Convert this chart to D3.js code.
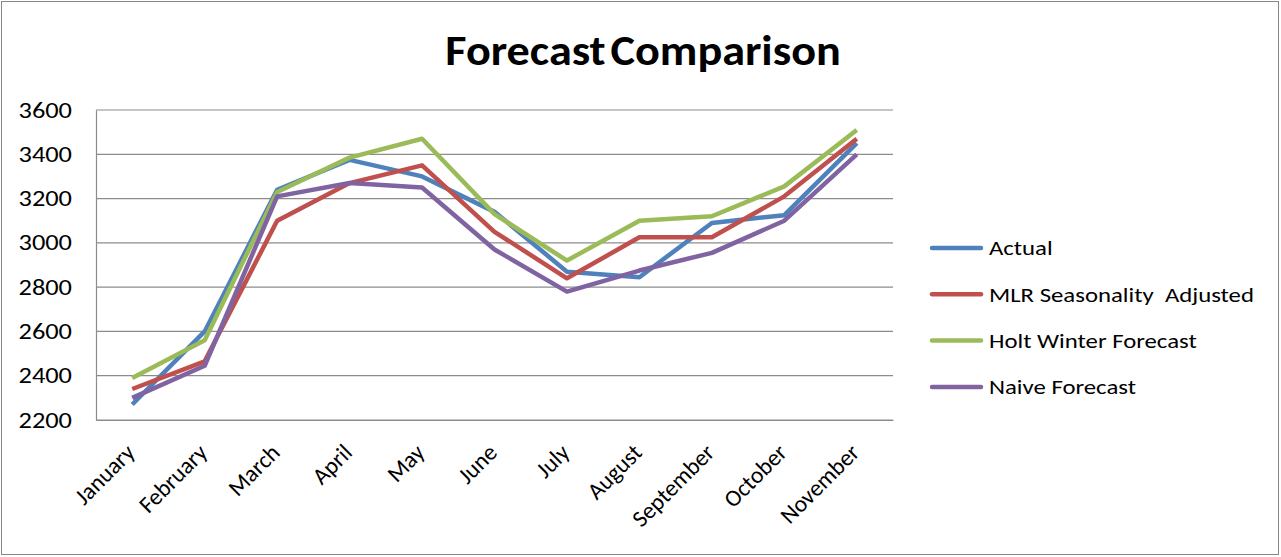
<!DOCTYPE html>
<html>
<head>
<meta charset="utf-8">
<script src="https://cdn.jsdelivr.net/npm/d3@7"></script>
<style>
  body { margin: 0; background: #fff; }
  svg text { font-family: Carlito, Calibri, Lato, "Open Sans", sans-serif; fill: #000; }
</style>
</head>
<body>
<div id="chart"></div>
<script>
const months = ['January', 'February', 'March', 'April', 'May', 'June', 'July', 'August', 'September', 'October', 'November'];
const actual = [2270, 2600, 3240, 3375, 3300, 3140, 2870, 2845, 3090, 3125, 3450];
const mlr = [2340, 2465, 3100, 3270, 3350, 3050, 2840, 3025, 3025, 3210, 3470];
const holtWinter = [2390, 2560, 3230, 3385, 3470, 3130, 2920, 3100, 3120, 3255, 3510];
const naive = [2300, 2445, 3210, 3270, 3250, 2970, 2780, 2875, 2955, 3100, 3400];
const seriesNames = ['Actual', 'MLR Seasonality  Adjusted', 'Holt Winter Forecast', 'Naive Forecast'];
const colors = ['#4F81BD', '#C0504D', '#9BBB59', '#8064A2'];
const yTicks = [2200, 2400, 2600, 2800, 3000, 3200, 3400, 3600];

const width = 1281, height = 557;
const margin = {top: 110, right: 388, bottom: 137, left: 96};

const svg = d3.select('#chart').append('svg')
  .attr('width', width)
  .attr('height', height);

// outer frame
svg.append('rect')
  .attr('x', 1.5).attr('y', 1.5)
  .attr('width', width - 4).attr('height', height - 4)
  .attr('fill', '#fff').attr('stroke', '#868686').attr('stroke-width', 1);

svg.append('text')
  .attr('transform', 'translate(643,65) scale(1.1,1)')
  .attr('text-anchor', 'middle')
  .attr('font-size', 42).attr('font-weight', 'bold')
  .style('word-spacing', '-5px')
  .text('Forecast Comparison');

const x = d3.scaleBand().domain(months).range([margin.left, width - margin.right]);
const y = d3.scaleLinear().domain([2200, 3600]).range([height - margin.bottom, margin.top]);

// gridlines
svg.append('g').selectAll('line').data(yTicks).join('line')
  .attr('x1', margin.left).attr('x2', width - margin.right)
  .attr('y1', d => y(d)).attr('y2', d => y(d))
  .attr('stroke', '#8c8c8c').attr('stroke-width', 1.2);

// y axis
const yAxis = svg.append('g')
  .attr('transform', `translate(${margin.left},0)`)
  .call(d3.axisLeft(y).tickValues(yTicks).tickFormat(d3.format('d')).tickSize(0));
yAxis.select('.domain').attr('stroke', '#8c8c8c').attr('stroke-width', 1.2);
yAxis.selectAll('text')
  .attr('font-size', 22).attr('font-family', null)
  .attr('x', null).attr('dy', '0.32em')
  .attr('transform', 'translate(-24,0) scale(1.2,1)');

// x axis
const xAxis = svg.append('g')
  .attr('transform', `translate(0,${height - margin.bottom})`)
  .call(d3.axisBottom(x).tickSize(0).tickSizeOuter(0));
xAxis.select('.domain').attr('stroke', '#8c8c8c').attr('stroke-width', 1.2);
xAxis.selectAll('text')
  .attr('font-size', 23.5).attr('font-family', null)
  .attr('text-anchor', 'end')
  .attr('dy', null).attr('y', 0)
  .attr('transform', 'translate(4,34) rotate(-45)');

const allSeries = [actual, mlr, holtWinter, naive];
const line = d3.line()
  .x((d, i) => x(months[i]) + x.bandwidth() / 2)
  .y(d => y(d));

svg.append('g').selectAll('path').data(allSeries).join('path')
  .attr('d', line)
  .attr('fill', 'none')
  .attr('stroke', (d, i) => colors[i])
  .attr('stroke-width', 4.5)
  .attr('stroke-linejoin', 'round');

// legend
const legend = svg.append('g').selectAll('g').data(seriesNames).join('g')
  .attr('transform', (d, i) => `translate(931,${248 + i * 46.3})`);
legend.append('line')
  .attr('x1', 1).attr('x2', 50)
  .attr('stroke', (d, i) => colors[i])
  .attr('stroke-width', 4.5).attr('stroke-linecap', 'round');
legend.append('text')
  .attr('transform', 'translate(58,0) scale(1.18,1)')
  .attr('dy', '0.35em')
  .attr('font-size', 21)
  .style('white-space', 'pre')
  .text(d => d);
</script>
</body>
</html>
